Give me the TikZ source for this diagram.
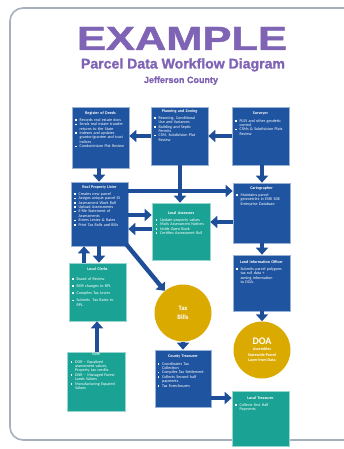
\documentclass[tikz,border=0pt]{standalone}
\usepackage{graphicx}
\usepackage{fontspec}
\setmainfont{Carlito}
\newfontfamily\titlefont[FakeBold=1.2]{Liberation Sans}
\usetikzlibrary{arrows.meta,shadows}
\definecolor{boxblue}{RGB}{31,84,161}
\definecolor{boxteal}{RGB}{26,163,148}
\definecolor{gold}{RGB}{219,170,0}
\definecolor{arrblue}{RGB}{30,78,152}
\definecolor{titlepurple}{RGB}{127,99,180}
\definecolor{framegray}{RGB}{168,175,188}
\newlength{\itemgap}
\newcommand{\bitem}{\par\vspace{\itemgap}\noindent\hangindent=4.6pt\hangafter=1\makebox[4.6pt][l]{\raisebox{0.4pt}{\rule{1.6pt}{1.6pt}}}}
\tikzset{
  boxstyle/.style={draw=white!55!#1, line width=0.6pt, fill=#1, inner sep=0pt,
    drop shadow={shadow xshift=0.8pt, shadow yshift=-0.8pt, opacity=0.35}},
  boxtext/.style={text=white, inner sep=0pt, text width=51pt,
    font=\fontsize{4.1}{4.4}\selectfont},
  arr/.style={draw=arrblue, line width=4.4pt, -{Triangle[width=12pt,length=7pt]}},
  goldcirc/.style={circle, fill=gold, minimum size=57pt, inner sep=0pt, text=white, align=center}
}
% name, x1, y1, x2, y2, colour, title offset, title, items
\newcommand{\mybox}[9]{%
  \pgfmathsetmacro{\bw}{#4-#2}\pgfmathsetmacro{\bh}{#5-#3}%
  \node[boxstyle=#6, minimum width=\bw pt, minimum height=\bh pt] (#1) at ({(#2+#4)/2},{(#3+#5)/2}) {};
  \node[boxtext, anchor=north] (#1t) at ({(#2+#4)/2},{#3+#7}) {\raggedright\noindent\hbox to\hsize{\hss #8\hss}\par\vspace{2.8pt}#9\par};
}
\begin{document}
\begin{tikzpicture}[x=1pt,y=-1pt]
\useasboundingbox (0,0) rectangle (344,449);
\fill[white] (0,0) rectangle (344,449);
\draw[framegray, line width=1.6pt, rounded corners=13pt] (10,8) rectangle (358,440);

% titles
\node[anchor=base, inner sep=0pt, text=titlepurple] (ttl) at (182,50) {\titlefont\bfseries\resizebox{210pt}{23pt}{EXAMPLE}};
\node[anchor=base, inner sep=0pt, text=titlepurple] (sub) at (183,68.5) {\titlefont\bfseries\resizebox{204pt}{!}{Parcel Data Workflow Diagram}};
\node[anchor=base, inner sep=0pt, text=titlepurple] (cty) at (181,83) {\titlefont\bfseries\resizebox{74pt}{!}{Jefferson County}};

% boxes
\mybox{rod}{72}{107}{129}{168}{boxblue}{4}{\bfseries Register of Deeds}{%
\bitem Records real estate docs
\bitem Sends real estate transfer\newline returns to the State
\bitem Indexes and updates\newline grantor/grantee and tract\newline indices
\bitem Condominium Plat Review}

\mybox{pz}{151}{107}{208}{165}{boxblue}{2}{\bfseries Planning and Zoning}{%
\bitem Rezoning, Conditional\newline Use and Variances
\bitem Building and Septic\newline Permits
\bitem CSM, Subdivision Plat\newline Review}

\mybox{surv}{232}{107}{289}{165}{boxblue}{5}{\bfseries Surveyor}{%
\bitem PLSS and other geodetic\newline control
\bitem CSMs \& Subdivision Plats\newline Review}

\mybox{rpl}{71}{182}{128}{246}{boxblue}{3}{\bfseries Real Property Lister}{%
\bitem Creates new parcel
\bitem Assigns unique parcel ID
\bitem Assessment Work Roll
\bitem Upload Assessments
\bitem E-file Statement of\newline Assessments
\bitem Enters Levies \& Rates
\bitem Print Tax Rolls and Bills}

\mybox{la}{152}{203}{210}{260}{boxteal}{8}{\bfseries Local Assessors}{%
\bitem Update property values
\bitem Mails Assessment Notices
\bitem Holds Open Book
\bitem Certifies Assessment Roll}

\mybox{carto}{233}{183}{290}{243}{boxblue}{3}{\bfseries Cartographer}{%
\bitem Maintains parcel\newline geometries in ESRI SDE\newline Enterprise Database}

\mybox{clerks}{69}{263}{126}{321}{boxteal}{4}{\bfseries Local Clerks}{%
\setlength{\itemgap}{2.8pt}%
\bitem Board of Review
\bitem BOR changes to RPL
\bitem Compiles Tax Levies
\bitem Submits~ Tax Rates to\newline RPL.}

\mybox{lio}{233}{255}{290}{311}{boxblue}{5}{\bfseries Land Information Officer}{%
\bitem Submits parcel polygons\newline tax roll data +\newline zoning information\newline to DOA.}

\mybox{state}{67}{352}{125}{411}{boxteal}{1}{State}{%
\bitem DOR -- Equalized\newline assessment values,\newline Property tax credits
\bitem DNR -- Managed Forest\newline Lands Values
\bitem Manufacturing Equated\newline Values}

\mybox{ct}{155}{350}{211}{407}{boxblue}{5}{\bfseries County Treasurer}{%
\bitem Coordinates Tax\newline Collection
\bitem Compiles Tax Settlement
\bitem Collects Second half\newline payments
\bitem Tax Foreclosures}

\mybox{lt}{232}{391}{289}{446}{boxteal}{5}{\bfseries Local Treasurer}{%
\bitem Collects first Half\newline Payments}

% circles
\node[goldcirc, font=\bfseries\fontsize{6.6}{9}\selectfont] (tb) at (183,313) {Tax\\Bills};
\node[goldcirc, font=\bfseries\fontsize{4.1}{5.4}\selectfont] (doa) at (262,350) {{\fontsize{10}{10}\selectfont DOA}\\[1pt]Assembles\\Statewide Parcel\\Layer from Data};

% helper coordinates
\coordinate (x84) at (84,0);
\coordinate (x97) at (97,0);
\coordinate (x99) at (99,0);
\coordinate (x180) at (180,0);
\coordinate (x262) at (262,0);
\coordinate (y191) at (0,191);
\coordinate (y215) at (0,215);
\coordinate (y222) at (0,222);
\coordinate (y229) at (0,229);
\coordinate (y398) at (0,398);

% connectors
\draw[arr] (pz.west) -- (rod.east |- pz.west);
\draw[arr] (surv.west) -- (pz.east |- surv.west);
\draw[arr] (rod.south -| x99) -- (rpl.north -| x99);
\draw[arr] (pz.south -| x180) -- (la.north -| x180);
\draw[arr] (surv.south -| x262) -- (carto.north -| x262);
\draw[arr] (rpl.east |- y191) -- (carto.west |- y191);
\draw[arr] (rpl.east |- y215) -- (la.west |- y215);
\draw[arr] (la.west |- y229) -- (rpl.east |- y229);
\draw[arr] (carto.west |- y222) -- (la.east |- y222);
\draw[arr] (carto.south -| x262) -- (lio.north -| x262);
\draw[arr] (lio.south -| x262) -- (doa.north);
\draw[arr] ([xshift=-2pt,yshift=2pt]rpl.south east) -- (tb);
\draw[arr] (rpl.south -| x99) -- (clerks.north -| x99);
\draw[arr] (clerks.north -| x84) -- (rpl.south -| x84);
\draw[arr] (state.north -| x97) -- (clerks.south -| x97);
\draw[arr] (tb.south) -- (ct.north -| tb.south);
\draw[arr] (ct.east |- y398) -- (lt.west |- y398);
\end{tikzpicture}
\end{document}
